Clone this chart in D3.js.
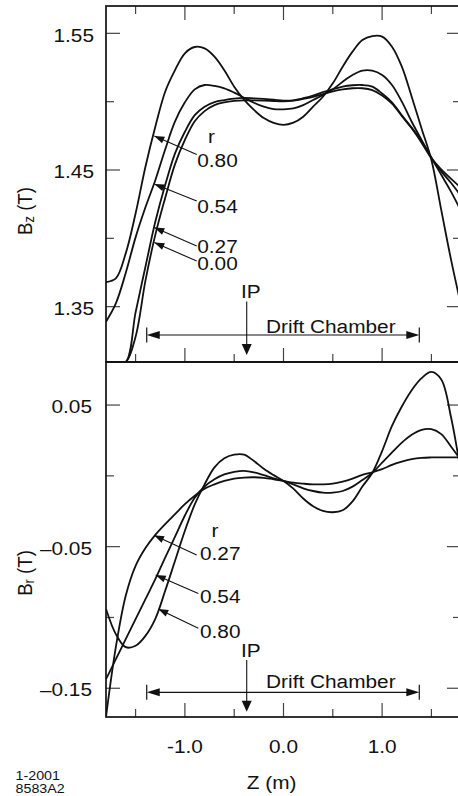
<!DOCTYPE html>
<html>
<head>
<meta charset="utf-8">
<script src="https://cdn.jsdelivr.net/npm/d3@7"></script>
<style>
  html, body { margin: 0; padding: 0; background: #fff; }
  svg { display: block; }
  text { font-family: "Liberation Sans", Arial, Helvetica, sans-serif; fill: #111; }
</style>
</head>
<body>
<svg id="chart" width="458" height="796"></svg>
<script>
// ---------------- DATA ----------------
const Z = [-1.8,-1.7,-1.6,-1.5,-1.4,-1.3,-1.2,-1.1,-1.0,-0.9,-0.8,-0.7,-0.6,-0.5,-0.4,-0.3,-0.2,-0.1,0.0,
           0.1,0.2,0.3,0.4,0.5,0.6,0.7,0.8,0.9,1.0,1.1,1.2,1.3,1.4,1.5,1.6,1.7,1.8];

// B_z (T) for radii r = 0.80, 0.54, 0.27, 0.00
const BZ_R080 = [1.368,1.3707,1.389,1.4182,1.4524,1.4816,1.5073,1.5231,1.5354,1.540,1.539,1.533,1.523,1.511,1.5015,1.494,1.488,1.4845,1.483,
                 1.4846,1.489,1.4963,1.5036,1.5134,1.5256,1.5366,1.5451,1.548,1.5476,1.5402,1.5256,1.5036,1.4804,1.4573,1.4206,1.384,1.351];
const BZ_R054 = [1.339,1.3524,1.3746,1.4007,1.4227,1.4425,1.465,1.4855,1.4995,1.509,1.5122,1.5115,1.5097,1.5066,1.5029,1.4992,1.4963,1.4946,1.4944,
                 1.4951,1.4975,1.5012,1.5049,1.509,1.5146,1.5195,1.5227,1.5227,1.5195,1.5122,1.500,1.4853,1.472,1.459,1.4465,1.434,1.420];
const BZ_R027 = [1.245,1.275,1.3066,1.3458,1.3792,1.4121,1.439,1.4622,1.478,1.4902,1.4963,1.4997,1.5012,1.5022,1.5027,1.5024,1.502,1.5015,1.5008,
                 1.501,1.5025,1.5045,1.507,1.509,1.511,1.512,1.5122,1.511,1.506,1.4995,1.490,1.481,1.471,1.459,1.449,1.4405,1.431];
const BZ_R000 = [1.23,1.26,1.2897,1.328,1.369,1.4025,1.4295,1.4543,1.472,1.4857,1.4931,1.4975,1.4995,1.5005,1.501,1.501,1.5008,1.5005,1.5003,
                 1.5008,1.502,1.5035,1.5055,1.5075,1.509,1.5098,1.5098,1.5085,1.5045,1.4985,1.4895,1.4805,1.470,1.4585,1.4505,1.4435,1.437];

// B_r (T) for radii r = 0.80, 0.54, 0.27
const BR_R080 = [-0.094,-0.1118,-0.121,-0.120,-0.113,-0.101,-0.0812,-0.060,-0.0388,-0.0202,-0.006,0.006,0.0124,0.015,0.015,0.0105,0.005,0.0005,-0.0036,
                 -0.009,-0.016,-0.0215,-0.0248,-0.0257,-0.0243,-0.018,-0.0075,0.002,0.0175,0.0353,0.049,0.0605,0.069,0.0734,0.068,0.041,0.002];
const BR_R054 = [-0.1436,-0.1295,-0.1153,-0.1012,-0.0871,-0.073,-0.0577,-0.043,-0.028,-0.0155,-0.0075,-0.0024,0.001,0.0028,0.0035,0.0025,0.0005,-0.0018,-0.0036,
                 -0.006,-0.0088,-0.0107,-0.0119,-0.0119,-0.0107,-0.0076,-0.0029,0.002,0.0094,0.0165,0.0235,0.029,0.0325,0.033,0.0295,0.0205,0.011];
const BR_R027 = [-0.171,-0.1208,-0.0847,-0.0636,-0.051,-0.0417,-0.0341,-0.027,-0.020,-0.0141,-0.009,-0.006,-0.0036,-0.0019,-0.0012,-0.001,-0.0014,-0.0024,-0.0036,
                 -0.0048,-0.0055,-0.006,-0.006,-0.0055,-0.004,-0.0019,0.0007,0.0025,0.0047,0.0078,0.0101,0.0118,0.0127,0.013,0.0131,0.013,0.013];

// axis ticks and labels
const X_DOMAIN = [-1.8, 1.8];
const X_MAJOR = [-1.0, 0.0, 1.0];
const X_MINOR = [-1.5, -0.5, 0.5, 1.5];
const X_LABELS = ["-1.0", "0.0", "1.0"];
const BZ_DOMAIN = [1.3095, 1.570];
const BZ_MAJOR = [1.35, 1.45, 1.55];
const BZ_MINOR = [1.40, 1.50];
const BZ_LABELS = ["1.35", "1.45", "1.55"];
const BR_DOMAIN = [-0.1703, 0.0804];
const BR_MAJOR = [-0.15, -0.05, 0.05];
const BR_MINOR = [-0.10, 0.00];
const BR_LABELS = ["\u20130.15", "\u20130.05", "0.05"];

// annotations (in data units)
const TOP_ANN_LABELS = ["0.80", "0.54", "0.27", "0.00"];
const TOP_ANN_TEXT_B = [1.4524, 1.4183, 1.3895, 1.3765];
const TOP_ANN_TAIL_B = [1.4613, 1.4273, 1.3944, 1.3834];
const TOP_ANN_HEAD_B = [1.4749, 1.4397, 1.4079, 1.3969];
const TOP_ANN_TEXT_Z = [-0.875, -0.875, -0.875, -0.875];
const TOP_ANN_TAIL_Z = [-0.88, -0.88, -0.88, -0.88];
const TOP_ANN_HEAD_Z = [-1.31, -1.31, -1.31, -1.31];
const TOP_R_POS = [-0.73, 1.470];

const BOT_ANN_LABELS = ["0.27", "0.54", "0.80"];
const BOT_ANN_TEXT_B = [-0.0592, -0.0900, -0.1148];
const BOT_ANN_TAIL_B = [-0.0559, -0.0830, -0.1077];
const BOT_ANN_HEAD_B = [-0.0420, -0.0700, -0.0940];
const BOT_ANN_TEXT_Z = [-0.847, -0.847, -0.847];
const BOT_ANN_TAIL_Z = [-0.88, -0.864, -0.864];
const BOT_ANN_HEAD_Z = [-1.313, -1.296, -1.270];
const BOT_R_POS = [-0.695, -0.0432];

const IP_Z = -0.373, IP_TEXT_Z = -0.332;
const TOP_IP = {text: 1.3561, from: 1.3537, to: 1.3147};
const BOT_IP = {text: -0.1278, from: -0.1301, to: -0.1666};
const DRIFT_Z = [-1.387, 1.377], DRIFT_TEXT_Z = 0.48;
const TOP_DRIFT = {line: 1.3293, text: 1.3310};
const BOT_DRIFT = {line: -0.1529, text: -0.1495};

// ---------------- DRAW ----------------
const svg = d3.select("#chart");
const SX = 1.12;      // horizontal stretch of lettering
const FS = 18.6;
const INK = "#111";

const L = 106, R = 461;
const topP = {y0: 6, y1: 362};
const botP = {y0: 362, y1: 717};

const x = d3.scaleLinear().domain(X_DOMAIN).range([L, R]);
const yTop = d3.scaleLinear().domain(BZ_DOMAIN).range([topP.y1, topP.y0]).clamp(true);
const yBot = d3.scaleLinear().domain(BR_DOMAIN).range([botP.y1, botP.y0]).clamp(true);

function txt(g, px, py, s, anchor, size, sx) {
  return g.append("text")
    .attr("transform", `translate(${px},${py}) scale(${sx == null ? SX : sx},1)`)
    .attr("text-anchor", anchor || "start")
    .style("font-size", (size || FS) + "px")
    .text(s);
}
function head(g, x0, y0, x1, y1, len, hw) {
  const dx = x1 - x0, dy = y1 - y0, d = Math.hypot(dx, dy);
  const ux = dx / d, uy = dy / d;
  const bx = x1 - ux * len, by = y1 - uy * len;
  g.append("path")
    .attr("d", `M${x1},${y1}L${bx - uy * hw},${by + ux * hw}L${bx + uy * hw},${by - ux * hw}Z`)
    .attr("fill", INK).attr("stroke", "none");
}

const defs = svg.append("defs");
defs.append("clipPath").attr("id", "clipTop").append("rect")
  .attr("x", L).attr("y", topP.y0).attr("width", R - L).attr("height", topP.y1 - topP.y0);
defs.append("clipPath").attr("id", "clipBot").append("rect")
  .attr("x", L).attr("y", botP.y0).attr("width", R - L).attr("height", botP.y1 - botP.y0);

function ticksPanel(g, y, P, yMajor, yMinor, xTop, xBottom) {
  const tg = g.append("g").attr("stroke", "#444").attr("stroke-width", 1.2);
  const MJ = 14, MN = 8;
  yMajor.forEach(v => {
    tg.append("line").attr("x1", L).attr("x2", L + MJ).attr("y1", y(v)).attr("y2", y(v));
    tg.append("line").attr("x1", R).attr("x2", R - MJ).attr("y1", y(v)).attr("y2", y(v));
  });
  yMinor.forEach(v => {
    tg.append("line").attr("x1", L).attr("x2", L + MN).attr("y1", y(v)).attr("y2", y(v));
    tg.append("line").attr("x1", R).attr("x2", R - MN).attr("y1", y(v)).attr("y2", y(v));
  });
  const xt = (vals, len) => vals.forEach(v => {
    if (xTop) tg.append("line").attr("x1", x(v)).attr("x2", x(v)).attr("y1", P.y0).attr("y2", P.y0 + len);
    if (xBottom) tg.append("line").attr("x1", x(v)).attr("x2", x(v)).attr("y1", P.y1).attr("y2", P.y1 - len);
  });
  xt(X_MAJOR, MJ); xt(X_MINOR, MN);
}

function curves(g, y, series, clip) {
  const line = d3.line().x((d, i) => x(Z[i])).y(d => y(d)).curve(d3.curveCatmullRom.alpha(0.5));
  const cg = g.append("g").attr("clip-path", `url(#${clip})`);
  series.forEach(s => cg.append("path").attr("d", line(s))
    .attr("fill", "none").attr("stroke", INK).attr("stroke-width", 1.8).attr("stroke-linejoin", "round"));
}

function annotations(g, y, labels, tz, tb, lz, lb, hz, hb, rPos) {
  labels.forEach((lab, i) => {
    const x0 = x(lz[i]), y0 = y(lb[i]), x1 = x(hz[i]), y1 = y(hb[i]);
    g.append("line").attr("x1", x0).attr("y1", y0).attr("x2", x1).attr("y2", y1)
      .attr("stroke", INK).attr("stroke-width", 1.1);
    head(g, x0, y0, x1, y1, 10, 3.6);
    txt(g, x(tz[i]), y(tb[i]), lab, "start");
  });
  txt(g, x(rPos[0]), y(rPos[1]), "r", "middle");
}

function ipAndDrift(g, y, ip, drift) {
  txt(g, x(IP_TEXT_Z), y(ip.text), "IP", "middle");
  const xi = x(IP_Z);
  g.append("line").attr("x1", xi).attr("x2", xi).attr("y1", y(ip.from)).attr("y2", y(ip.to) - 8)
    .attr("stroke", INK).attr("stroke-width", 1.1);
  head(g, xi, y(ip.from), xi, y(ip.to), 11, 5);
  const xa = x(DRIFT_Z[0]), xb = x(DRIFT_Z[1]), yl = y(drift.line);
  g.append("line").attr("x1", xa + 8).attr("x2", xb - 8).attr("y1", yl).attr("y2", yl)
    .attr("stroke", INK).attr("stroke-width", 1.1);
  head(g, xb, yl, xa, yl, 13, 4);
  head(g, xa, yl, xb, yl, 13, 4);
  [xa, xb].forEach(xx => g.append("line").attr("x1", xx).attr("x2", xx)
    .attr("y1", yl - 7.5).attr("y2", yl + 7.5).attr("stroke", INK).attr("stroke-width", 1.2));
  txt(g, x(DRIFT_TEXT_Z), y(drift.text), "Drift Chamber", "middle");
}

// ---- top panel ----
const gTop = svg.append("g");
ticksPanel(gTop, yTop, topP, BZ_MAJOR, BZ_MINOR, true, true);
curves(gTop, yTop, [BZ_R080, BZ_R054, BZ_R027, BZ_R000], "clipTop");
annotations(gTop, yTop, TOP_ANN_LABELS, TOP_ANN_TEXT_Z, TOP_ANN_TEXT_B, TOP_ANN_TAIL_Z, TOP_ANN_TAIL_B,
            TOP_ANN_HEAD_Z, TOP_ANN_HEAD_B, TOP_R_POS);
ipAndDrift(gTop, yTop, TOP_IP, TOP_DRIFT);
BZ_MAJOR.forEach((v, i) => txt(gTop, 94, yTop(v) + 8.2, BZ_LABELS[i], "end"));

// ---- bottom panel ----
const gBot = svg.append("g");
ticksPanel(gBot, yBot, botP, BR_MAJOR, BR_MINOR, false, true);
curves(gBot, yBot, [BR_R080, BR_R054, BR_R027], "clipBot");
annotations(gBot, yBot, BOT_ANN_LABELS, BOT_ANN_TEXT_Z, BOT_ANN_TEXT_B, BOT_ANN_TAIL_Z, BOT_ANN_TAIL_B,
            BOT_ANN_HEAD_Z, BOT_ANN_HEAD_B, BOT_R_POS);
ipAndDrift(gBot, yBot, BOT_IP, BOT_DRIFT);
BR_MAJOR.forEach((v, i) => txt(gBot, 92, yBot(v) + 8.2, BR_LABELS[i], "end"));

// ---- frames ----
const fg = svg.append("g").attr("stroke", INK).attr("stroke-width", 1.7).attr("fill", "none");
fg.append("rect").attr("x", L).attr("y", topP.y0).attr("width", R - L).attr("height", topP.y1 - topP.y0);
fg.append("rect").attr("x", L).attr("y", botP.y0).attr("width", R - L).attr("height", botP.y1 - botP.y0);

// ---- x tick labels and titles ----
X_MAJOR.forEach((v, i) => txt(svg, x(v), 753.3, X_LABELS[i], "middle"));
txt(svg, 271.7, 788.5, "Z (m)", "middle");

function yTitle(px, py, main, sub) {
  const t = svg.append("text")
    .attr("transform", `translate(${px},${py}) rotate(-90) scale(1,${SX})`)
    .attr("text-anchor", "middle")
    .style("font-size", FS + "px");
  t.append("tspan").text(main);
  t.append("tspan").attr("dy", 2.5).style("font-size", "13px").text(sub);
  t.append("tspan").attr("dy", -2.5).text(" (T)");
}
yTitle(31.5, 211, "B", "z");
yTitle(31.5, 573, "B", "r");

txt(svg, 15.5, 780, "1-2001", "start", 13.6, 1.05);
txt(svg, 15.5, 793, "8583A2", "start", 13.6, 1.05);
</script>
</body>
</html>
